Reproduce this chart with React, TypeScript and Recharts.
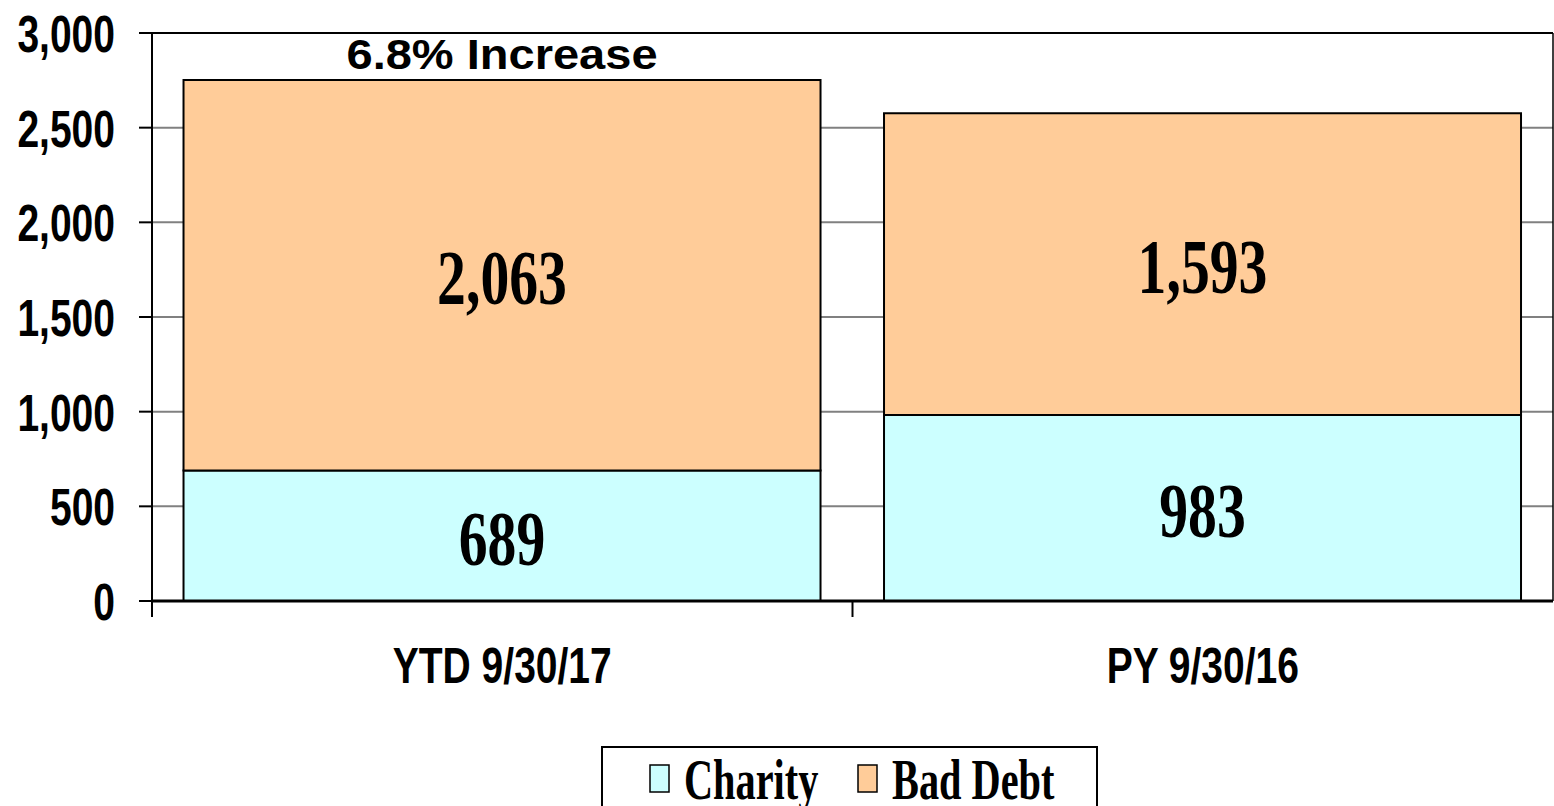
import React from 'react';
import * as Recharts from 'recharts';
import { BarChart, Bar, XAxis, YAxis, CartesianGrid, Legend, LabelList } from 'recharts';

const categories = ['YTD 9/30/17', 'PY 9/30/16'];
const seriesNames = ['Charity', 'Bad Debt'];
const charity = [689, 983];
const badDebt = [2063, 1593];
const notes = ['6.8% Increase', ''];
const yTicks = [0, 500, 1000, 1500, 2000, 2500, 3000];

const data = categories.map((name, i) => ({
  name,
  charity: charity[i],
  badDebt: badDebt[i],
  note: notes[i],
}));

const SANS = '"Liberation Sans", Arial, sans-serif';
const SERIF = '"Liberation Serif", "Times New Roman", serif';

const fmt = (v: number) => Number(v).toLocaleString('en-US');

const R: any = Recharts;
const usePlot = (): { x: number; y: number; width: number; height: number } | null => {
  if (R.usePlotArea) return R.usePlotArea();
  const off = R.useOffset();
  const w = R.useChartWidth();
  const h = R.useChartHeight();
  if (!off) return null;
  return { x: off.left, y: off.top, width: w - off.left - off.right, height: h - off.top - off.bottom };
};

// plot border (top/right) and category boundary ticks, Excel style
const Frame = () => {
  const plot = usePlot();
  if (!plot) return null;
  const step = plot.width / categories.length;
  const bottom = plot.y + plot.height;
  return (
    <g>
      <line x1={plot.x} x2={plot.x + plot.width} y1={plot.y} y2={plot.y} stroke="#000" strokeWidth={2} />
      <line x1={plot.x + plot.width} x2={plot.x + plot.width} y1={plot.y} y2={bottom} stroke="#000" strokeWidth={1.5} />
      {categories.map((_, i) => (
        <line key={i} x1={plot.x + i * step} x2={plot.x + i * step} y1={bottom} y2={bottom + 16} stroke="#000" strokeWidth={2} />
      ))}
    </g>
  );
};

const YTick = ({ x, y, payload }: any) => (
  <text
    transform={`translate(${x},${y + 19}) scale(0.75,1)`}
    textAnchor="end"
    fontFamily={SANS}
    fontWeight="bold"
    fontSize={52}
    fill="#000"
  >
    {fmt(payload.value)}
  </text>
);

const XTick = ({ x, y, payload }: any) => (
  <text
    transform={`translate(${x},${y + 82}) scale(0.78,1)`}
    textAnchor="middle"
    fontFamily={SANS}
    fontWeight="bold"
    fontSize={50}
    fill="#000"
  >
    {payload.value}
  </text>
);

const ValueLabel = ({ x, y, width, height, value }: any) => (
  <text
    transform={`translate(${Number(x) + Number(width) / 2},${Number(y) + Number(height) / 2 + 29}) scale(0.74,1)`}
    textAnchor="middle"
    fontFamily={SERIF}
    fontWeight="bold"
    fontSize={78}
    fill="#000"
  >
    {fmt(value)}
  </text>
);

const NoteLabel = ({ x, y, width, value }: any) =>
  value ? (
    <text
      transform={`translate(${Number(x) + Number(width) / 2},${Number(y) - 11}) scale(1.12,1)`}
      textAnchor="middle"
      fontFamily={SANS}
      fontWeight="bold"
      fontSize={42}
      fill="#000"
    >
      {value}
    </text>
  ) : null;

const legendOffsets = [49, 257];

const LegendBox = ({ payload }: any) => {
  const items = [...(payload || [])].sort(
    (a: any, b: any) => seriesNames.indexOf(a.value) - seriesNames.indexOf(b.value)
  );
  return (
    <svg width={497} height={60} style={{ display: 'block' }}>
      <rect x={1} y={1} width={495} height={80} fill="#fff" stroke="#000" strokeWidth={2} />
      {items.map((item: any, i: number) => (
        <g key={item.value} transform={`translate(${legendOffsets[i]},0)`}>
          <rect x={0} y={19} width={19} height={27} fill={item.color} stroke="#000" strokeWidth={1.5} />
          <text
            transform="translate(34,53) scale(0.72,1)"
            fontFamily={SERIF}
            fontWeight="bold"
            fontSize={56}
            fill="#000"
          >
            {item.value}
          </text>
        </g>
      ))}
    </svg>
  );
};

export default function App() {
  return (
    <div style={{ position: 'absolute', left: 0, top: 0, background: '#fff' }}>
      <BarChart
        width={1554}
        height={806}
        data={data}
        margin={{ top: 33, right: 1, bottom: 0, left: 0 }}
        barCategoryGap="4.5%"
      >
        <CartesianGrid vertical={false} stroke="#808080" strokeWidth={2} />
        <XAxis
          dataKey="name"
          height={205}
          tick={<XTick />}
          tickLine={false}
          tickSize={0}
          tickMargin={0}
          axisLine={{ stroke: '#000', strokeWidth: 3 }}
        />
        <YAxis
          width={152}
          domain={[0, 3000]}
          ticks={yTicks}
          interval={0}
          tick={<YTick />}
          tickSize={13}
          tickMargin={24}
          tickLine={{ stroke: '#000', strokeWidth: 2 }}
          axisLine={{ stroke: '#000', strokeWidth: 2 }}
        />
        <Legend
          layout="horizontal"
          verticalAlign="middle"
          align="center"
          content={<LegendBox />}
          wrapperStyle={{ top: 746, left: 601, width: 497, height: 60, lineHeight: 0 }}
        />
        <Bar dataKey="charity" name="Charity" stackId="a" fill="#CCFFFF" stroke="#000" strokeWidth={2} isAnimationActive={false}>
          <LabelList dataKey="charity" content={<ValueLabel />} />
        </Bar>
        <Bar dataKey="badDebt" name="Bad Debt" stackId="a" fill="#FFCC99" stroke="#000" strokeWidth={2} isAnimationActive={false}>
          <LabelList dataKey="badDebt" content={<ValueLabel />} />
          <LabelList dataKey="note" content={<NoteLabel />} />
        </Bar>
        <Frame />
      </BarChart>
    </div>
  );
}
